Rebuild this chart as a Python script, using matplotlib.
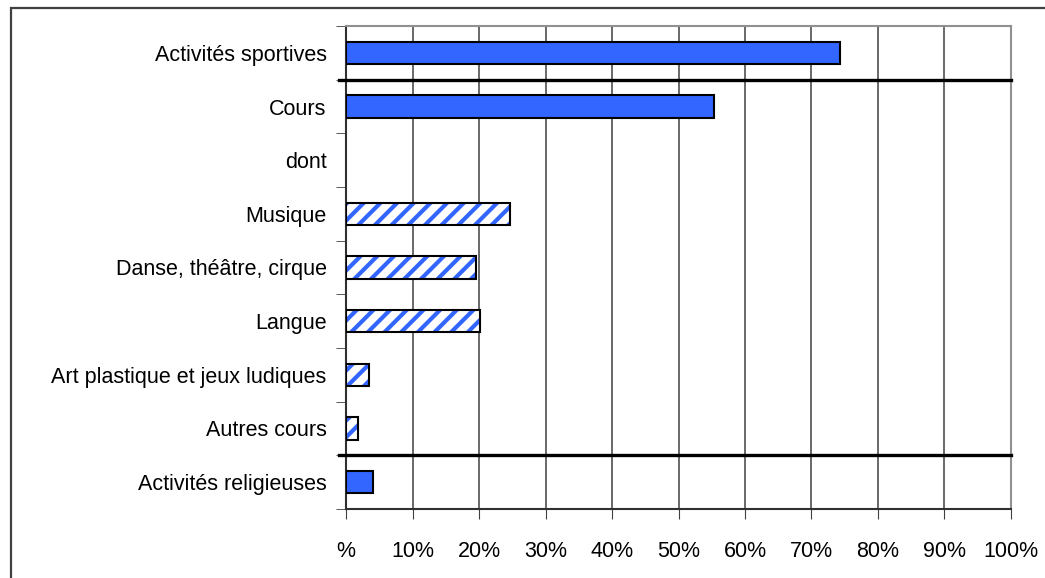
import matplotlib
matplotlib.use("Agg")
import matplotlib.pyplot as plt
from matplotlib.patches import Rectangle

plt.rcParams['font.family'] = ['Liberation Sans', 'DejaVu Sans']
plt.rcParams['hatch.linewidth'] = 3.0

categories = ["Activités sportives", "Cours", "dont", "Musique",
              "Danse, théâtre, cirque", "Langue",
              "Art plastique et jeux ludiques", "Autres cours",
              "Activités religieuses"]
values = [74.3, 55.3, 0, 24.6, 19.6, 20.1, 3.5, 1.8, 4.0]
hatched = [False, False, False, True, True, True, True, True, False]
xticks = [0, 10, 20, 30, 40, 50, 60, 70, 80, 90, 100]
xticklabels = ["%", "10%", "20%", "30%", "40%", "50%", "60%", "70%", "80%", "90%", "100%"]

blue = "#3366FF"

fig = plt.figure(figsize=(10.45, 5.78), dpi=100)
ax = fig.add_axes([346/1045, 1 - 509/578, 665/1045, 483/578])

pos = list(range(len(categories)))
h = 0.41
for i, (v, hh) in enumerate(zip(values, hatched)):
    if v == 0:
        continue
    if hh:
        ax.barh(i, v, height=h, color="white", edgecolor=blue, hatch="//", linewidth=0, zorder=3)
        ax.barh(i, v, height=h, fill=False, edgecolor="black", linewidth=1.5, zorder=4)
    else:
        ax.barh(i, v, height=h, color=blue, edgecolor="black", linewidth=1.5, zorder=3)

ax.set_xlim(0, 100)
ax.set_ylim(len(categories) - 0.5, -0.5)
ax.set_xticks(xticks)
ax.set_xticklabels(xticklabels, fontsize=15.5)
ax.set_yticks(pos)
ax.set_yticklabels(categories, fontsize=15.5)
ax.tick_params(axis='y', length=0, pad=14)
ax.tick_params(axis='x', length=7, pad=16, color="#404040")
# y tick marks at category boundaries
ax.set_yticks([p + 0.5 for p in range(-1, len(categories))], minor=True)
ax.tick_params(axis='y', which='minor', length=7, color="#404040")

ax.grid(axis='x', color="#404040", linewidth=1.1, zorder=1)
# thick separators
for yb in [0.5, 7.5]:
    ax.plot([-1.0, 100], [yb, yb], color="black", linewidth=2.4, zorder=5, clip_on=False)

ax.spines['left'].set_color("#303030")
ax.spines['bottom'].set_color("#303030")
ax.spines['top'].set_color("#909090")
ax.spines['right'].set_color("#909090")
for s in ax.spines.values():
    s.set_linewidth(1.5)

# outer frame of the chart
fig.patches.append(Rectangle((11/1045, -0.2), 1.2, 1.2 - 8/578,
                             transform=fig.transFigure, fill=False,
                             edgecolor="#404040", linewidth=1.6))

fig.savefig("out.png", dpi=100)
